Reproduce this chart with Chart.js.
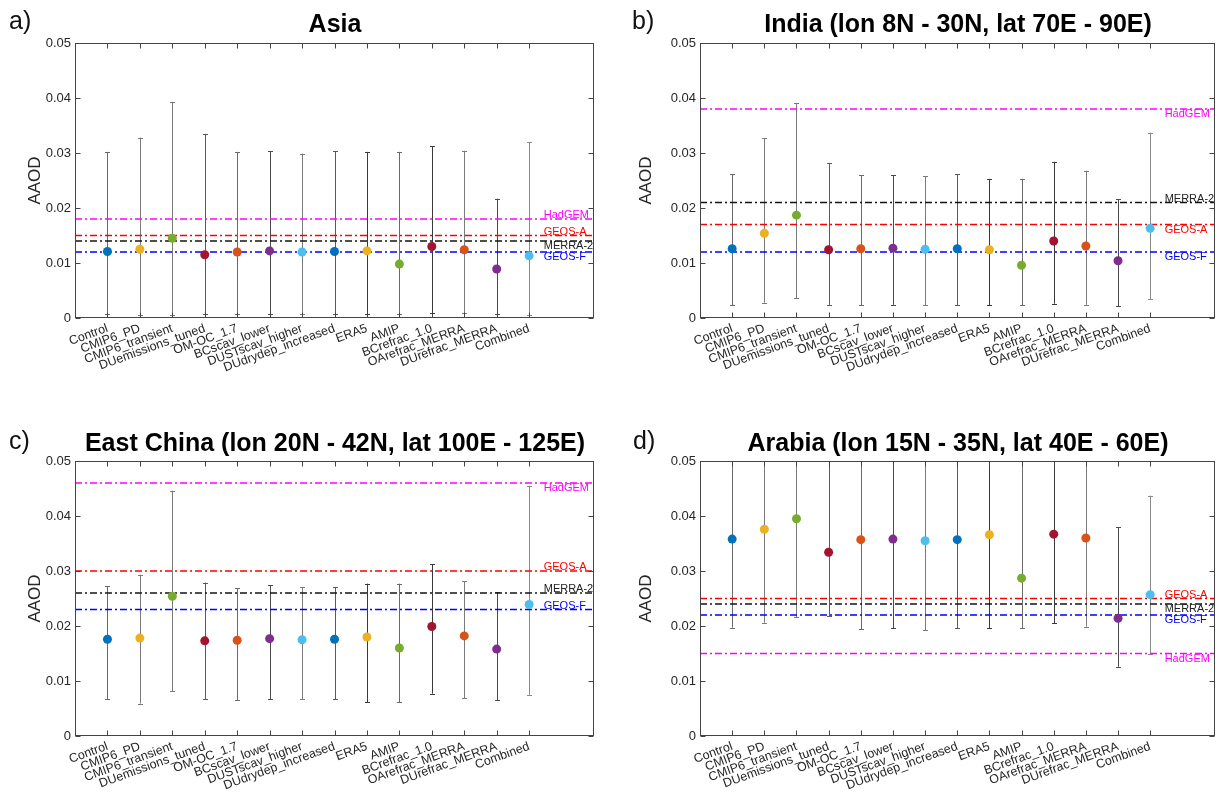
<!DOCTYPE html>
<html>
<head>
<meta charset="utf-8">
<script src="https://cdn.jsdelivr.net/npm/chart.js@4.4.0/dist/chart.umd.min.js"></script>
<style>
  html, body { margin:0; padding:0; background:#fff; }
  body { width:1219px; height:802px; position:relative; overflow:hidden; font-family:'Liberation Sans', Arial, Helvetica, sans-serif; }
  canvas { position:absolute; }
  .letter { position:absolute; font-size:25px; line-height:1; color:#111; }
  .title { position:absolute; font-size:25px; font-weight:bold; line-height:1; color:#000; white-space:nowrap; transform:translate(-50%,-50%); }
</style>
</head>
<body>
<canvas id="ca" width="610" height="400" style="left:0;top:0"></canvas>
<canvas id="cb" width="609" height="400" style="left:610px;top:0"></canvas>
<canvas id="cc" width="610" height="402" style="left:0;top:400px"></canvas>
<canvas id="cd" width="609" height="402" style="left:610px;top:400px"></canvas>

<div class="letter" style="left:9px;top:8px">a)</div>
<div class="letter" style="left:632px;top:8px">b)</div>
<div class="letter" style="left:9px;top:428px">c)</div>
<div class="letter" style="left:633px;top:428px">d)</div>

<div class="title" style="left:335px;top:23px">Asia</div>
<div class="title" style="left:958px;top:23px">India (lon 8N - 30N, lat 70E - 90E)</div>
<div class="title" style="left:335px;top:442px">East China (lon 20N - 42N, lat 100E - 125E)</div>
<div class="title" style="left:958px;top:442px">Arabia (lon 15N - 35N, lat 40E - 60E)</div>

<script>
// ---------------- DATA ----------------
const categories = ['Control','CMIP6_PD','CMIP6_transient','DUemissions_tuned','OM-OC_1.7','BCscav_lower','DUSTscav_higher','DUdrydep_increased','ERA5','AMIP','BCrefrac_1.0','OArefrac_MERRA','DUrefrac_MERRA','Combined'];
const yTickValues = [0, 0.01, 0.02, 0.03, 0.04, 0.05];
const yTickLabels = ['0', '0.01', '0.02', '0.03', '0.04', '0.05'];
const refNames = ['HadGEM', 'GEOS-A', 'MERRA-2', 'GEOS-F'];

// a) Asia
const asiaMean = [0.0121,0.0125,0.0145,0.0115,0.0120,0.0122,0.0120,0.0121,0.0122,0.0098,0.0130,0.0124,0.0089,0.0113];
const asiaHigh = [0.0302,0.0328,0.0393,0.0335,0.0302,0.0303,0.0299,0.0303,0.0302,0.0302,0.0312,0.0304,0.0217,0.0320];
const asiaLow  = [0.0008,0.0006,0.0006,0.0008,0.0008,0.0008,0.0008,0.0008,0.0008,0.0008,0.0009,0.0009,0.0008,0.0006];
const asiaRef  = [0.018, 0.015, 0.014, 0.012];

// b) India
const indiaMean = [0.0126,0.0154,0.0187,0.0124,0.0126,0.0127,0.0125,0.0126,0.0124,0.0096,0.0140,0.0131,0.0104,0.0163];
const indiaHigh = [0.0261,0.0327,0.0391,0.0282,0.0260,0.0260,0.0258,0.0261,0.0253,0.0253,0.0284,0.0268,0.0216,0.0337];
const indiaLow  = [0.0023,0.0028,0.0036,0.0024,0.0023,0.0024,0.0023,0.0023,0.0023,0.0023,0.0026,0.0024,0.0021,0.0034];
const indiaRef  = [0.038, 0.017, 0.021, 0.012];

// c) East China
const chinaMean = [0.0176,0.0178,0.0254,0.0173,0.0174,0.0177,0.0175,0.0176,0.0180,0.0160,0.0199,0.0182,0.0158,0.0239];
const chinaHigh = [0.0272,0.0293,0.0446,0.0279,0.0269,0.0274,0.0271,0.0271,0.0277,0.0277,0.0312,0.0281,0.0261,0.0455];
const chinaLow  = [0.0067,0.0059,0.0081,0.0067,0.0065,0.0067,0.0067,0.0067,0.0061,0.0061,0.0077,0.0069,0.0065,0.0075];
const chinaRef  = [0.046, 0.030, 0.026, 0.023];

// d) Arabia
const arabiaMean = [0.0358,0.0376,0.0395,0.0334,0.0357,0.0358,0.0355,0.0357,0.0366,0.0287,0.0367,0.0360,0.0214,0.0257];
const arabiaHigh = [0.0519,0.0546,0.0574,0.0512,0.0521,0.0520,0.0518,0.0519,0.0536,0.0512,0.0528,0.0521,0.0380,0.0437];
const arabiaLow  = [0.0197,0.0206,0.0216,0.0218,0.0194,0.0196,0.0192,0.0196,0.0196,0.0196,0.0205,0.0199,0.0126,0.0150];
const arabiaRef  = [0.015, 0.025, 0.024, 0.022];

// ---------------- STYLE ----------------
const pointColors = ['#0072BD','#EDB120','#77AC30','#A2142F','#D95319','#7E2F8E','#4DBEEE',
                     '#0072BD','#EDB120','#77AC30','#A2142F','#D95319','#7E2F8E','#4DBEEE'];
const refColors = ['rgb(255,0,255)', 'rgb(255,0,0)', 'rgb(20,20,20)', 'rgb(0,0,255)'];
const refTextColors = ['#ff00ff', '#ff0000', '#222222', '#0000ff'];
const errColors = ['#6a6a6a','#7a7a7a','#7a7a7a','#5a5a5a','#6a6a6a','#4a4a4a','#7a7a7a',
                   '#5a5a5a','#3a3a3a','#6a6a6a','#3a3a3a','#7a7a7a','#4a4a4a','#8a8a8a'];
const FONT = "'Liberation Sans', Arial, Helvetica, sans-serif";
Chart.defaults.font.family = FONT;

const panels = [
  { canvas:'ca', mean:asiaMean, high:asiaHigh, low:asiaLow, ref:asiaRef,
    place:['above','above','below','below'],
    pad:{left:0, right:16, top:43, bottom:0}, yW:75, xH:82, titlePad:25 },
  { canvas:'cb', mean:indiaMean, high:indiaHigh, low:indiaLow, ref:indiaRef,
    place:['below','below','above','below'],
    pad:{left:15, right:2, top:43, bottom:0}, yW:75, xH:82, titlePad:11 },
  { canvas:'cc', mean:chinaMean, high:chinaHigh, low:chinaLow, ref:chinaRef,
    place:['below','above','above','above'],
    pad:{left:0, right:16, top:61, bottom:0}, yW:75, xH:66, titlePad:25 },
  { canvas:'cd', mean:arabiaMean, high:arabiaHigh, low:arabiaLow, ref:arabiaRef,
    place:['below','above','below','below'],
    pad:{left:15, right:2, top:61, bottom:0}, yW:75, xH:66, titlePad:11 }
];

function makePlugin(p) {
  return {
    id: 'matlabFrame',
    beforeDatasetsDraw(chart) {
      const {ctx, chartArea:a, scales:{x, y}} = chart;
      ctx.save();
      ctx.beginPath(); ctx.rect(a.left, a.top, a.right - a.left, a.bottom - a.top); ctx.clip();
      ctx.lineWidth = 1;
      p.mean.forEach((m, i) => {
        const px = Math.round(x.getPixelForValue(i + 1)) + 0.5;
        const yt = y.getPixelForValue(p.high[i]);
        const yb = y.getPixelForValue(p.low[i]);
        ctx.strokeStyle = errColors[i];
        ctx.beginPath();
        ctx.moveTo(px, yt); ctx.lineTo(px, yb);
        ctx.moveTo(px - 2.5, Math.round(yt) + 0.5); ctx.lineTo(px + 2.5, Math.round(yt) + 0.5);
        ctx.moveTo(px - 2.5, Math.round(yb) + 0.5); ctx.lineTo(px + 2.5, Math.round(yb) + 0.5);
        ctx.stroke();
      });
      ctx.restore();
    },
    afterDatasetsDraw(chart) {
      const {ctx, chartArea:a, scales:{x, y}} = chart;
      ctx.save();
      // reference labels
      ctx.font = '11px ' + FONT;
      ctx.textBaseline = 'middle';
      ctx.textAlign = 'left';
      p.ref.forEach((v, k) => {
        const py = y.getPixelForValue(v) + (p.place[k] === 'above' ? -4 : 5);
        ctx.fillStyle = refTextColors[k];
        ctx.fillText(refNames[k], x.getPixelForValue(14.45), py);
      });
      // box
      ctx.strokeStyle = '#444444';
      ctx.lineWidth = 1;
      const L = Math.round(a.left) + 0.5, R = Math.round(a.right) - 0.5;
      const T = Math.round(a.top) + 0.5, B = Math.round(a.bottom) - 0.5;
      ctx.strokeRect(L, T, R - L, B - T);
      // inward ticks
      ctx.beginPath();
      yTickValues.forEach(v => {
        const py = Math.round(y.getPixelForValue(v)) + 0.5;
        ctx.moveTo(L, py); ctx.lineTo(L + 5, py);
        ctx.moveTo(R, py); ctx.lineTo(R - 5, py);
      });
      categories.forEach((c, i) => {
        const px = Math.round(x.getPixelForValue(i + 1)) + 0.5;
        ctx.moveTo(px, B); ctx.lineTo(px, B - 5);
        ctx.moveTo(px, T); ctx.lineTo(px, T + 5);
      });
      ctx.stroke();
      ctx.restore();
    }
  };
}

panels.forEach(p => {
  const datasets = [
    {
      type: 'scatter',
      label: 'runs',
      data: p.mean.map((v, i) => ({x: i + 1, y: v})),
      backgroundColor: pointColors,
      borderColor: pointColors,
      borderWidth: 0,
      pointRadius: 4.5,
      order: 0
    }
  ];
  p.ref.forEach((v, k) => {
    datasets.push({
      type: 'line',
      label: refNames[k],
      data: [{x: 0, y: v}, {x: 16, y: v}],
      borderColor: refColors[k],
      backgroundColor: refColors[k],
      borderWidth: 1.5,
      borderDash: [7, 3, 2, 3],
      pointRadius: 0,
      fill: false,
      order: 1
    });
  });

  new Chart(document.getElementById(p.canvas), {
    type: 'scatter',
    data: { datasets },
    options: {
      responsive: false,
      animation: false,
      devicePixelRatio: 1,
      layout: { padding: p.pad },
      plugins: { legend: { display: false }, tooltip: { enabled: false }, colors: { enabled: false } },
      scales: {
        x: {
          type: 'linear', min: 0, max: 16,
          grid: { display: false, drawTicks: false },
          border: { display: false },
          afterBuildTicks: s => { s.ticks = categories.map((c, i) => ({ value: i + 1 })); },
          afterFit: s => { s.height = p.xH; },
          ticks: {
            autoSkip: false, minRotation: 20, maxRotation: 20, padding: 3,
            color: '#262626', font: { size: 12.5 },
            callback: v => categories[v - 1]
          }
        },
        y: {
          type: 'linear', min: 0, max: 0.05,
          grid: { display: false, drawTicks: false },
          border: { display: false },
          afterBuildTicks: s => { s.ticks = yTickValues.map(v => ({ value: v })); },
          afterFit: s => { s.width = p.yW; },
          ticks: {
            padding: 4, color: '#262626', font: { size: 13 },
            callback: v => yTickLabels[yTickValues.indexOf(v)]
          },
          title: {
            display: true, text: 'AAOD', color: '#262626',
            font: { size: 17 }, padding: { top: p.titlePad, bottom: 0 }
          }
        }
      }
    },
    plugins: [makePlugin(p)]
  });
});
</script>
</body>
</html>
